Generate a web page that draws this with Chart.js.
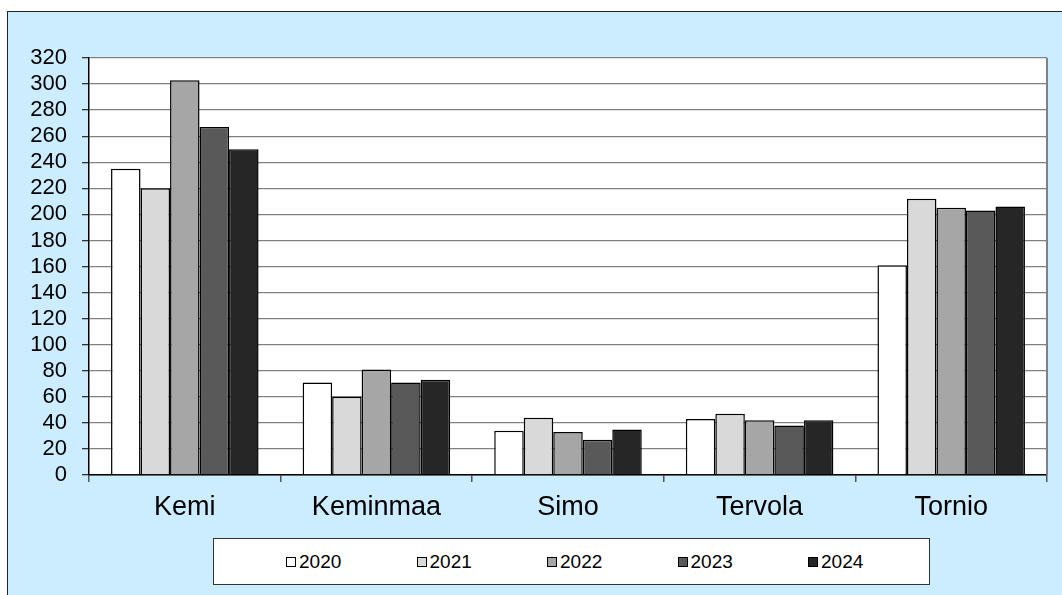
<!DOCTYPE html>
<html>
<head>
<meta charset="utf-8">
<title>Kunnat 2020-2024</title>
<script src="https://cdn.jsdelivr.net/npm/chart.js@4.4.0/dist/chart.umd.min.js"></script>
<style>
  body { margin: 0; background: #fff; overflow: hidden; }
  #frame {
    position: absolute; left: 7px; top: 11px; width: 1070px; height: 600px;
    background: #ccecff; border-left: 1px solid #222; border-top: 1px solid #222;
  }
  #myChart { position: absolute; left: 0; top: 0; }
  #legend {
    position: absolute; left: 213px; top: 538px; width: 717px; height: 47px;
    background: #fff; border: 1px solid #333; box-sizing: border-box;
    font-family: "Liberation Sans", Arial, sans-serif; font-size: 19px; color: #000;
  }
  .item { position: absolute; top: 12px; display: flex; align-items: center; }
  .item span.box { width: 8px; height: 8px; border: 1px solid #000; margin-right: 3px; }
</style>
</head>
<body>
<div id="frame"></div>
<canvas id="myChart" width="1062" height="595"></canvas>
<div id="legend"></div>
<script>
const kunnat = ["Kemi", "Keminmaa", "Simo", "Tervola", "Tornio"];
const vuodet = ["2020", "2021", "2022", "2023", "2024"];
const v2020 = [235, 71, 34, 43, 161];
const v2021 = [220, 60, 44, 47, 212];
const v2022 = [303, 81, 33, 42, 205];
const v2023 = [267, 71, 27, 38, 203];
const v2024 = [250, 73, 35, 42, 206];
const varit = ["#ffffff", "#d9d9d9", "#a6a6a6", "#595959", "#262626"];

const fontti = "'Liberation Sans', Arial, sans-serif";
const sarjat = [v2020, v2021, v2022, v2023, v2024];

// valkoinen tausta piirtoalueelle + harmaa oikea reuna
const taustaPlugin = {
  id: "tausta",
  beforeDraw(chart) {
    const a = chart.chartArea;
    const c = chart.ctx;
    c.save();
    c.fillStyle = "#fff";
    c.fillRect(a.left, a.top, a.right - a.left, a.bottom - a.top);
    c.restore();
  },
  afterDraw(chart) {
    const a = chart.chartArea;
    const c = chart.ctx;
    c.save();
    c.strokeStyle = "#808080";
    c.lineWidth = 2;
    c.beginPath();
    c.moveTo(a.right, a.top);
    c.lineTo(a.right, a.bottom);
    c.stroke();
    c.restore();
  }
};

const data = {
  labels: kunnat,
  datasets: vuodet.map((v, i) => ({
    label: v,
    data: sarjat[i],
    backgroundColor: varit[i],
    borderColor: "#000",
    borderWidth: 1.5,
    categoryPercentage: 0.77,
    barPercentage: 1
  }))
};

const config = {
  type: "bar",
  data: data,
  options: {
    responsive: false,
    animation: false,
    layout: { padding: { top: 58, right: 15, left: 0, bottom: 0 } },
    plugins: { legend: { display: false }, tooltip: { enabled: false } },
    scales: {
      x: {
        grid: { drawOnChartArea: false, tickLength: 7, tickColor: "#555", lineWidth: 1.5 },
        border: { color: "#000", width: 1.5 },
        ticks: { color: "#000", padding: 9, font: { family: fontti, size: 27 } },
        afterFit(scale) { scale.height = 120; }
      },
      y: {
        min: 0,
        max: 320,
        ticks: { stepSize: 20, autoSkip: false, color: "#000", padding: 15, font: { family: fontti, size: 22 } },
        grid: { color: "#808080", lineWidth: 1.3, tickLength: 7, tickColor: "#333" },
        border: { color: "#000", width: 1.5 },
        afterFit(scale) { scale.width = 89; }
      }
    }
  },
  plugins: [taustaPlugin]
};

const ctx = document.getElementById("myChart").getContext("2d");
const myChart = new Chart(ctx, config);

// selite (legend) html:nä
const legend = document.getElementById("legend");
vuodet.forEach((v, i) => {
  const el = document.createElement("div");
  el.className = "item";
  el.style.left = (72 + i * 130.5) + "px";
  el.innerHTML = `<span class="box" style="background:${varit[i]}"></span>${v}`;
  legend.appendChild(el);
});
</script>
</body>
</html>
